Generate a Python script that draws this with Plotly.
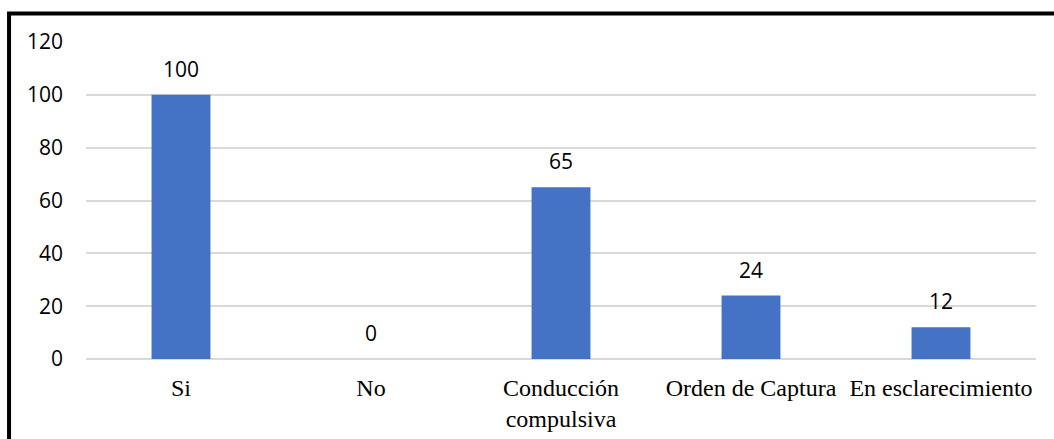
import plotly.graph_objects as go

categories = ["Si", "No", "Conducción<br>compulsiva", "Orden de Captura", "En esclarecimiento"]
values = [100, 0, 65, 24, 12]
y_ticks = [0, 20, 40, 60, 80, 100, 120]

fig = go.Figure(go.Bar(
    x=categories, y=values,
    marker=dict(color="#4472C4", line=dict(width=0)),
))

annotations = [
    dict(x=c, y=v, xref="x", yref="y", text=str(v), showarrow=False,
         yanchor="bottom", yshift=10,
         font=dict(family="Open Sans", size=21, color="#000000"))
    for c, v in zip(categories, values)
]

fig.update_layout(
    width=1054, height=439,
    margin=dict(l=86, r=18, t=42, b=80),
    paper_bgcolor="white", plot_bgcolor="white",
    bargap=0.69,
    showlegend=False,
    annotations=annotations,
    xaxis=dict(
        showgrid=False, showline=False, ticks="", automargin=False,
        ticklabelstandoff=12,
        tickfont=dict(family="Liberation Serif", size=24, color="#000000"),
    ),
    yaxis=dict(
        range=[0, 120], tickvals=y_ticks, automargin=False,
        showgrid=True, gridcolor="#d9d9d9", gridwidth=1.5,
        zeroline=True, zerolinecolor="#d9d9d9", zerolinewidth=1.5,
        showline=False, ticks="",
        ticklabelstandoff=22,
        tickfont=dict(family="Open Sans", size=21, color="#000000"),
    ),
    shapes=[dict(
        type="rect", xref="paper", yref="paper",
        x0=-0.081, x1=1.3, y0=-0.6, y1=1.0899,
        line=dict(color="black", width=4), fillcolor="rgba(0,0,0,0)",
    )],
)

fig.write_html("out.html", config={"displayModeBar": False},
               post_script="document.body.style.margin='0';")
